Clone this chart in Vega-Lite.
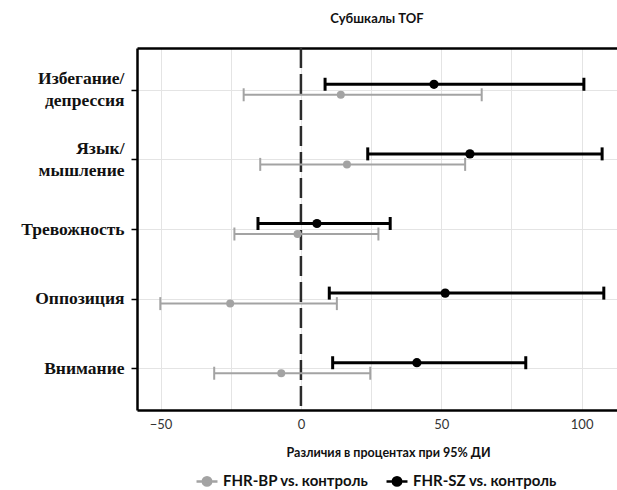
{
  "$schema": "https://vega.github.io/schema/vega-lite/v6.json",
  "width": 480,
  "height": 362,
  "autosize": {"type": "none"},
  "padding": {"left": 137, "top": 48, "right": 0, "bottom": 80},
  "title": {"text": "Субшкалы TOF", "font": "Lato", "fontSize": 13, "fontWeight": "bold", "color": "#111", "offset": 21, "anchor": "middle"},
  "config": {
    "view": {"stroke": null},
    "axis": {"gridColor": "#e4e4e4", "gridWidth": 1}
  },
  "resolve": {"axis": {"x": "independent"}},
  "layer": [
    {
      "data": {"values": [{"ref": 0}]},
      "mark": {"type": "rule", "color": "#2b2b2b", "strokeWidth": 2.5, "strokeDash": [20, 6]},
      "encoding": {
        "x": {
          "field": "ref", "type": "quantitative",
          "scale": {"domain": [-58.4, 112.6], "nice": false, "zero": false},
          "axis": {"orient": "top", "labels": false, "ticks": false, "grid": false, "domain": true, "domainColor": "#000", "domainWidth": 2.5, "title": null}
        }
      }
    },
    {
      "data": {"values": [
        {"cat": "Избегание/депрессия", "group": "FHR-SZ vs. контроль", "est": 47.4, "lo": 8.6, "hi": 100.8},
        {"cat": "Избегание/депрессия", "group": "FHR-BP vs. контроль", "est": 14.2, "lo": -20.4, "hi": 64.4},
        {"cat": "Язык/мышление", "group": "FHR-SZ vs. контроль", "est": 60.2, "lo": 23.8, "hi": 107.3},
        {"cat": "Язык/мышление", "group": "FHR-BP vs. контроль", "est": 16.4, "lo": -14.5, "hi": 58.5},
        {"cat": "Тревожность", "group": "FHR-SZ vs. контроль", "est": 5.7, "lo": -15.3, "hi": 31.8},
        {"cat": "Тревожность", "group": "FHR-BP vs. контроль", "est": -1.2, "lo": -23.7, "hi": 27.6},
        {"cat": "Оппозиция", "group": "FHR-SZ vs. контроль", "est": 51.4, "lo": 10.1, "hi": 107.9},
        {"cat": "Оппозиция", "group": "FHR-BP vs. контроль", "est": -25.2, "lo": -50.1, "hi": 12.8},
        {"cat": "Внимание", "group": "FHR-SZ vs. контроль", "est": 41.3, "lo": 11.3, "hi": 80.1},
        {"cat": "Внимание", "group": "FHR-BP vs. контроль", "est": -7.0, "lo": -30.9, "hi": 24.7}
      ]},
      "encoding": {
        "y": {
          "field": "cat", "type": "nominal",
          "sort": ["Избегание/депрессия", "Язык/мышление", "Тревожность", "Оппозиция", "Внимание"],
          "scale": {"type": "point", "padding": 0.6},
          "axis": {
            "title": null, "grid": true, "domain": true, "domainColor": "#000", "domainWidth": 2.5,
            "ticks": true, "tickColor": "#000", "tickSize": 6, "tickWidth": 1.5,
            "labelFont": "Liberation Serif", "labelFontWeight": "bold", "labelFontSize": 17.5, "labelColor": "#111",
            "labelPadding": 7, "labelLineHeight": 22,
            "labelOffset": {"expr": "indexof(datum.value, '/') > 0 ? -11 : 0"},
            "labelExpr": "indexof(datum.label, '/') > 0 ? [slice(datum.label, 0, indexof(datum.label, '/') + 1), slice(datum.label, indexof(datum.label, '/') + 1)] : datum.label"
          }
        }
      },
      "layer": [
        {
          "mark": {"type": "rule", "yOffset": {"expr": "datum.group == 'FHR-SZ vs. контроль' ? -5.5 : 5"}, "strokeWidth": {"expr": "datum.group == 'FHR-SZ vs. контроль' ? 3 : 2"}},
          "encoding": {
            "x": {
              "field": "lo", "type": "quantitative",
              "scale": {"domain": [-58.4, 112.6], "nice": false, "zero": false},
              "axis": {
                "orient": "bottom", "values": [-50, -25, 0, 25, 50, 75, 100],
                "labelExpr": "datum.value % 50 == 0 ? datum.label : ''",
                "grid": true, "ticks": false, "domain": true, "domainColor": "#000", "domainWidth": 2.5,
                "labelFont": "Lato", "labelFontSize": 13, "labelColor": "#333", "labelPadding": 8,
                "title": "Различия в процентах при 95% ДИ", "titleFont": "Lato", "titleFontSize": 12.5, "titleFontWeight": "bold", "titleColor": "#111", "titlePadding": 15, "titleX": 251
              }
            },
            "x2": {"field": "hi"},
            "color": {
              "field": "group", "type": "nominal",
              "scale": {"domain": ["FHR-BP vs. контроль", "FHR-SZ vs. контроль"], "range": ["#a3a3a3", "#000000"]},
              "legend": {
                "title": null, "orient": "none", "direction": "horizontal", "legendX": 58, "legendY": 421,
                "labelFont": "Lato", "labelFontSize": 15, "labelFontWeight": "bold", "labelColor": "#111",
                "symbolType": "M-1,0L1,0M-0.4,0A0.4,0.4,0,1,0,0.4,0A0.4,0.4,0,1,0,-0.4,0Z",
                "symbolSize": 440, "symbolStrokeWidth": 2.5, "labelOffset": 4, "columnPadding": 12,
                "symbolFillColor": {"expr": "scale('color', datum.value)"}
              }
            }
          }
        },
        {
          "mark": {"type": "tick", "orient": "vertical", "size": 13, "yOffset": {"expr": "datum.group == 'FHR-SZ vs. контроль' ? -5.5 : 5"}, "thickness": {"expr": "datum.group == 'FHR-SZ vs. контроль' ? 3 : 2"}, "opacity": 1},
          "encoding": {
            "x": {"field": "lo", "type": "quantitative"},
            "fill": {"field": "group", "type": "nominal", "scale": {"domain": ["FHR-BP vs. контроль", "FHR-SZ vs. контроль"], "range": ["#a3a3a3", "#000000"]}, "legend": null}
          }
        },
        {
          "mark": {"type": "tick", "orient": "vertical", "size": 13, "yOffset": {"expr": "datum.group == 'FHR-SZ vs. контроль' ? -5.5 : 5"}, "thickness": {"expr": "datum.group == 'FHR-SZ vs. контроль' ? 3 : 2"}, "opacity": 1},
          "encoding": {
            "x": {"field": "hi", "type": "quantitative"},
            "fill": {"field": "group", "type": "nominal", "scale": {"domain": ["FHR-BP vs. контроль", "FHR-SZ vs. контроль"], "range": ["#a3a3a3", "#000000"]}, "legend": null}
          }
        },
        {
          "mark": {"type": "point", "filled": true, "opacity": 1, "yOffset": {"expr": "datum.group == 'FHR-SZ vs. контроль' ? -5.5 : 5"}, "size": {"expr": "datum.group == 'FHR-SZ vs. контроль' ? 85 : 64"}},
          "encoding": {
            "x": {"field": "est", "type": "quantitative"},
            "fill": {"field": "group", "type": "nominal", "scale": {"domain": ["FHR-BP vs. контроль", "FHR-SZ vs. контроль"], "range": ["#a3a3a3", "#000000"]}, "legend": null}
          }
        }
      ]
    }
  ]
}
